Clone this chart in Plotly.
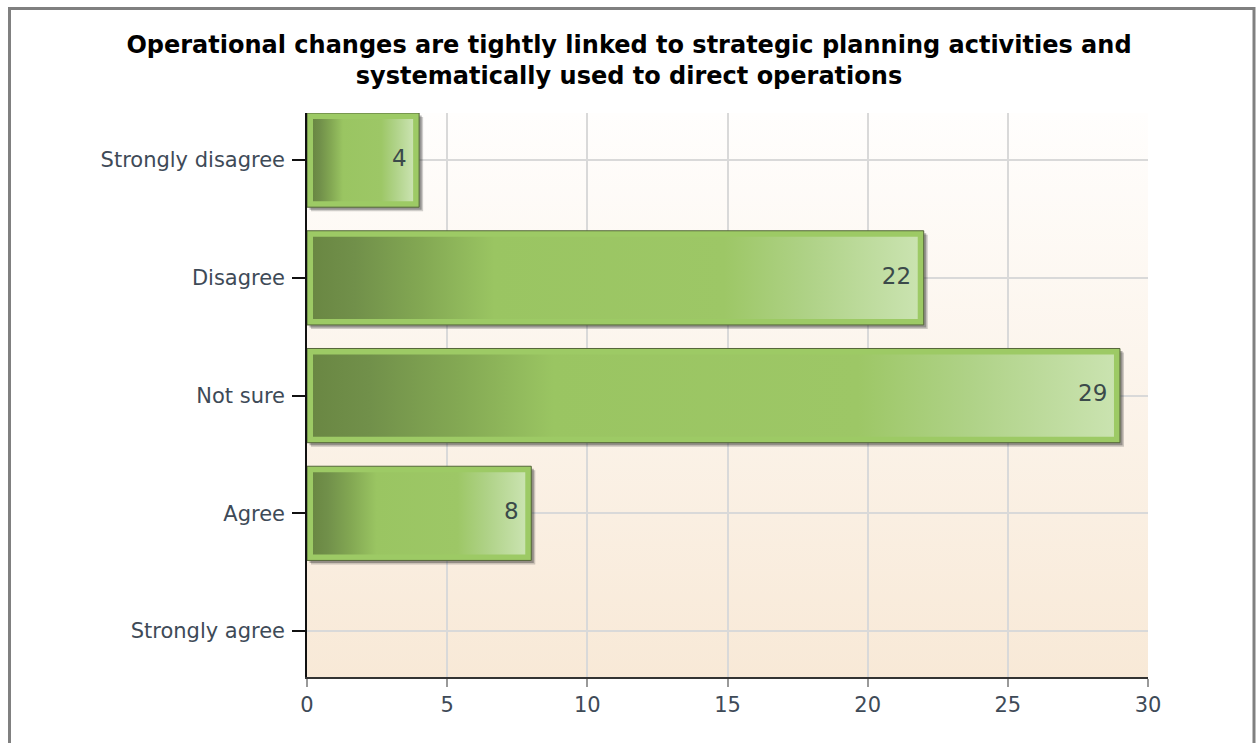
import base64
import plotly.graph_objects as go

# ---------------- data ----------------
categories = ["Strongly disagree", "Disagree", "Not sure", "Agree", "Strongly agree"]
counts = [4, 22, 29, 8, 0]
x_tick_values = [0, 5, 10, 15, 20, 25, 30]
title_lines = [
    "Operational changes are tightly linked to strategic planning activities and",
    "systematically used to direct operations",
]

# ---------------- layout constants ----------------
W, H = 1258, 743
L, R, T, B = 307, 110, 113, 66
plot_w = W - L - R
plot_h = H - T - B
x_range = [0, 30]
y_range = [4.39, -0.40]          # reversed: first category on top
px_x = plot_w / (x_range[1] - x_range[0])
px_y = plot_h / (y_range[0] - y_range[1])
bar_w = 0.8
frame_px = 6
fx = frame_px / px_x
fy = frame_px / px_y

positions = list(range(len(categories)))

fig = go.Figure()

# shadows (two soft layers)
for off_px, alpha in [(4, 0.22), (2.5, 0.35)]:
    fig.add_trace(go.Bar(
        y=positions, x=counts, base=off_px / px_x, orientation="h",
        width=bar_w, offset=-bar_w / 2 + off_px / px_y,
        marker=dict(color=[f"rgba(40,40,40,{alpha})" if v > 0 else "rgba(0,0,0,0)" for v in counts],
                    line=dict(width=0)),
        hoverinfo="skip", showlegend=False,
    ))

# outer bar (frame)
fig.add_trace(go.Bar(
    y=positions, x=counts, orientation="h", width=bar_w,
    marker=dict(color="#9dca65",
                line=dict(color="#55663a", width=[1 if v > 0 else 0 for v in counts])),
    hoverinfo="skip", showlegend=False,
))

# inner gradient fills
grad = [
    [0.0, "#6a8743"], [0.07, "#71904a"], [0.18, "#83a853"], [0.30, "#9ac562"],
    [0.68, "#9dc766"], [0.82, "#afd287"], [1.0, "#cae3b0"],
]
for pos, v in zip(positions, counts):
    if v <= 0:
        continue
    x0, x1 = fx, v - fx
    y0, y1 = pos - bar_w / 2 + fy, pos + bar_w / 2 - fy
    fig.add_trace(go.Scatter(
        x=[x0, x1, x1, x0, x0], y=[y0, y0, y1, y1, y0],
        mode="lines", line=dict(width=0), fill="toself",
        fillgradient=dict(type="horizontal", colorscale=grad),
        hoverinfo="skip", showlegend=False,
    ))

# value labels
fig.add_trace(go.Scatter(
    x=[v - 0.45 for v in counts], y=positions,
    mode="text", text=[str(v) if v > 0 else "" for v in counts],
    textposition="middle left",
    textfont=dict(family="DejaVu Sans", size=23, color="#3b4a4a"),
    hoverinfo="skip", showlegend=False,
))

# background gradient of the plot area
svg = ('<svg xmlns="http://www.w3.org/2000/svg" width="100" height="100" preserveAspectRatio="none">'
       '<defs><linearGradient id="g" x1="0" y1="0" x2="0" y2="1">'
       '<stop offset="0" stop-color="#fffefd"/><stop offset="1" stop-color="#f8e9d7"/>'
       '</linearGradient></defs><rect width="100" height="100" fill="url(#g)"/></svg>')
bg_src = "data:image/svg+xml;base64," + base64.b64encode(svg.encode()).decode()

fig.add_layout_image(dict(
    source=bg_src, xref="paper", yref="paper", x=0, y=1, sizex=1, sizey=1,
    xanchor="left", yanchor="top", sizing="stretch", layer="below",
))

# outer gray frame of the picture
fig.add_shape(
    type="rect", xref="paper", yref="paper",
    x0=(9.5 - L) / plot_w, x1=(1254 - L) / plot_w,
    y0=(H - B - 770) / plot_h, y1=(H - B - 8.5) / plot_h,
    line=dict(color="#808080", width=3), fillcolor="rgba(0,0,0,0)", layer="above",
)

fig.update_layout(
    width=W, height=H,
    margin=dict(l=L, r=R, t=T, b=B),
    paper_bgcolor="white",
    plot_bgcolor="rgba(0,0,0,0)",
    barmode="overlay",
    title=dict(
        text="<br>".join(title_lines),
        x=0.5, xanchor="center", xref="container",
        y=1 - 53 / H, yanchor="middle", yref="container",
        font=dict(family="DejaVu Sans", size=24, color="black", weight="bold"),
    ),
    xaxis=dict(
        range=x_range, tickvals=x_tick_values,
        showgrid=True, gridcolor="#d9d9d9", gridwidth=1.5,
        showline=True, linecolor="#333333", linewidth=2,
        ticks="outside", ticklen=8, tickcolor="#9a9a9a", tickwidth=2,
        tickfont=dict(family="DejaVu Sans", size=21, color="#3e4a57"),
        ticklabelstandoff=0,
        zeroline=False, fixedrange=True,
    ),
    yaxis=dict(
        range=y_range, tickvals=positions, ticktext=categories,
        showgrid=True, gridcolor="#d9d9d9", gridwidth=1.5,
        showline=True, linecolor="#111111", linewidth=1.5,
        ticks="outside", ticklen=13, tickcolor="#111111", tickwidth=1.5,
        tickfont=dict(family="DejaVu Sans", size=21, color="#3e4a57"),
        ticklabelstandoff=3,
        zeroline=False, fixedrange=True,
    ),
)

fig.write_html("out.html", config={"displayModeBar": False},
               post_script="document.body.style.margin='0';")
